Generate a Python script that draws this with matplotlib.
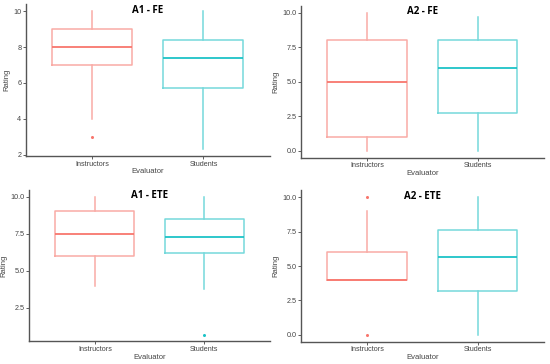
import matplotlib
matplotlib.use("Agg")
import matplotlib.pyplot as plt

# ratings summary (whisker low, q1, median, q3, whisker high)
groups = ["Instructors", "Students"]
titles = ["A1 - FE", "A2 - FE", "A1 - ETE", "A2 - ETE"]

a1_fe_instr = [4, 7, 8, 9, 10]
a1_fe_stud = [2.3, 5.7, 7.4, 8.4, 10]
a1_fe_out = [[3], []]

a2_fe_instr = [0, 1, 5, 8, 10]
a2_fe_stud = [0, 2.7, 6, 8, 9.7]
a2_fe_out = [[], []]

a1_ete_instr = [4, 6, 7.5, 9, 10]
a1_ete_stud = [3.8, 6.2, 7.3, 8.5, 10]
a1_ete_out = [[], [0.7]]

a2_ete_instr = [4, 4, 4, 6, 9]
a2_ete_stud = [0, 3.2, 5.66, 7.65, 10]
a2_ete_out = [[0, 10], []]

yticks = [[2, 4, 6, 8, 10], [0, 2.5, 5, 7.5, 10], [2.5, 5, 7.5, 10], [0, 2.5, 5, 7.5, 10]]
ylims = [(1.915, 10.385), (-0.5, 10.5), (0.235, 10.465), (-0.5, 10.5)]

panels = [(a1_fe_instr, a1_fe_stud, a1_fe_out),
          (a2_fe_instr, a2_fe_stud, a2_fe_out),
          (a1_ete_instr, a1_ete_stud, a1_ete_out),
          (a2_ete_instr, a2_ete_stud, a2_ete_out)]

positions = [[0.047, 0.571, 0.444, 0.417],
             [0.547, 0.567, 0.442, 0.417],
             [0.053, 0.062, 0.438, 0.417],
             [0.547, 0.061, 0.442, 0.416]]

box_cols = ["#F9ABA5", "#75D9DB"]
med_cols = ["#F8766D", "#1CC3C7"]

plt.rcParams["font.family"] = ["Liberation Sans", "DejaVu Sans"]
fig = plt.figure(figsize=(5.5, 3.64), dpi=100)

for k in range(4):
    ax = fig.add_axes(positions[k])
    instr, stud, outl = panels[k]
    for i, s in enumerate([instr, stud]):
        st = [dict(whislo=s[0], q1=s[1], med=s[2], q3=s[3], whishi=s[4],
                   fliers=outl[i])]
        ax.bxp(st, positions=[i + 1], widths=0.72, showcaps=False,
               boxprops=dict(color=box_cols[i], lw=1.1),
               whiskerprops=dict(color=box_cols[i], lw=1.1),
               medianprops=dict(color=med_cols[i], lw=1.3),
               flierprops=dict(marker="o", markersize=2.2, markerfacecolor=med_cols[i],
                               markeredgecolor="none"))
    ax.set_xlim(0.4, 2.6)
    ax.set_ylim(*ylims[k])
    ax.set_xticks([1, 2])
    ax.set_xticklabels(groups)
    ax.set_yticks(yticks[k])
    if k == 0:
        ax.set_yticklabels([str(v) for v in yticks[k]])
    else:
        ax.set_yticklabels(["%.1f" % v for v in yticks[k]])
    for side in ["top", "right"]:
        ax.spines[side].set_visible(False)
    for side in ["left", "bottom"]:
        ax.spines[side].set_color("#555555")
        ax.spines[side].set_linewidth(1.0)
    ax.tick_params(labelsize=5.2, colors="#444444", length=2, width=0.6, pad=1.2)
    ax.set_xlabel("Evaluator", fontsize=5.5, color="#444444", labelpad=0.5)
    ax.set_ylabel("Rating", fontsize=5.5, color="#444444", labelpad=2)
    ax.text(0.5, 0.96, titles[k], transform=ax.transAxes, ha="center", va="center",
            fontsize=7, fontweight="bold", family="Open Sans")

fig.savefig("out.png", dpi=100)
